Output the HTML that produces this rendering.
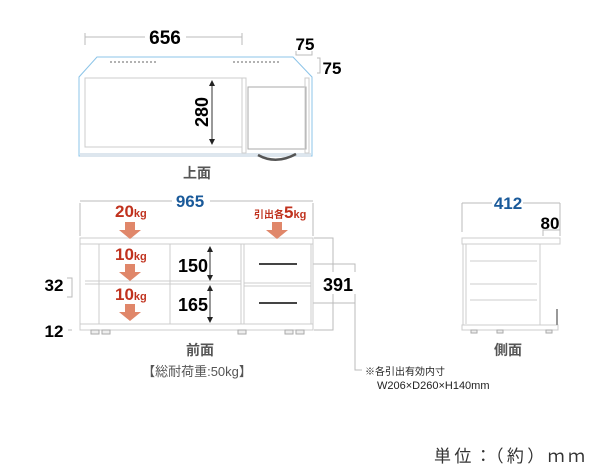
<!DOCTYPE html>
<html><head><meta charset="utf-8"><style>
html,body{margin:0;padding:0;background:#fff;}
svg{display:block;}
text{font-family:"Liberation Sans","Noto Sans CJK JP",sans-serif;}
</style></head><body>
<svg width="600" height="470" viewBox="0 0 600 470" xmlns="http://www.w3.org/2000/svg">
<defs>
<g id="darr"><polygon points="-5,0 5,0 5,8 11,8 0,17 -11,8 -5,8" fill="#e0876a"/></g>
</defs>
<!-- TOP VIEW -->
<g fill="none" stroke="#bbb" stroke-width="1">
<path d="M85,33 V45 M242,33 V45 M85,37 H145 M186,37 H242"/>
<path d="M296,51 V55 H312 V51 M317,58 H320 V73 H317"/>
</g>
<text x="165" y="44" font-size="19" font-weight="bold" text-anchor="middle">656</text>
<text x="305" y="50" font-size="17" font-weight="bold" text-anchor="middle">75</text>
<text x="332" y="74" font-size="17" font-weight="bold" text-anchor="middle">75</text>
<path d="M97,57 H293 L312,77 V156 H79 V77 Z" fill="#fff" stroke="#8cc4e8" stroke-width="1"/>
<rect x="80" y="153" width="231" height="4" fill="#dde6ee"/>
<g stroke="#666" stroke-width="1" stroke-dasharray="2,2"><path d="M110,62 H157 M233,62 H281"/></g>
<rect x="85" y="78" width="157" height="69" fill="none" stroke="#ccc"/>
<rect x="242" y="78" width="4" height="75" fill="none" stroke="#ccc"/>
<rect x="248" y="87" width="58" height="62" fill="none" stroke="#aaa"/>
<rect x="305" y="78" width="4" height="75" fill="none" stroke="#ccc"/>
<path d="M258,155 Q276,165 296,154" fill="none" stroke="#555" stroke-width="2.5"/>
<path d="M212,85 V139" stroke="#333"/>
<polygon points="209,86 215,86 212,80" fill="#222"/><polygon points="209,139 215,139 212,145" fill="#222"/>
<text transform="translate(208,112) rotate(-90)" font-size="18" font-weight="bold" text-anchor="middle">280</text>
<text x="197" y="178" font-size="14" font-weight="bold" fill="#555" text-anchor="middle">上面</text>

<!-- FRONT VIEW -->
<g fill="none" stroke="#bbb">
<path d="M80,203 V236 M313,203 V236 M80,201 H172 M210,201 H313"/>
<path d="M314,238 H333 V330 H314"/>
<path d="M67,278 H72 V297 H67 M68,330 H72"/>
<path d="M299,264 H355 V370 H362 M299,303 H355"/>
</g>
<text x="190" y="207" font-size="17" font-weight="bold" fill="#1a5a9a" text-anchor="middle">965</text>
<rect x="80" y="238" width="233" height="6" fill="#fff" stroke="#ccc"/>
<rect x="80" y="244" width="233" height="80" fill="#fff" stroke="#ccc"/>
<rect x="80" y="324" width="233" height="6" fill="#fff" stroke="#ccc"/>
<g stroke="#ccc"><path d="M99,244 V324 M170,244 V324 M241,244 V324 M244,244 V324 M311,244 V324 M244,283 H311 M244,286 H311 M85,281 H241 M85,284 H241"/></g>
<g fill="#eee" stroke="#aaa"><rect x="91" y="330" width="8" height="4"/><rect x="102" y="330" width="8" height="4"/><rect x="238" y="330" width="8" height="4"/><rect x="285" y="330" width="8" height="4"/><rect x="296" y="330" width="8" height="4"/></g>
<g stroke="#444" stroke-width="2"><path d="M259,264 H297 M259,303 H297"/></g>
<path d="M210,251 V276 M210,290 V318" stroke="#333"/>
<polygon points="207,252 213,252 210,246" fill="#222"/><polygon points="207,275 213,275 210,281" fill="#222"/>
<polygon points="207,291 213,291 210,285" fill="#222"/><polygon points="207,317 213,317 210,323" fill="#222"/>
<text x="193" y="272" font-size="18" font-weight="bold" text-anchor="middle">150</text>
<text x="193" y="311" font-size="18" font-weight="bold" text-anchor="middle">165</text>
<rect x="320" y="272" width="38" height="22" fill="#fff"/>
<text x="338" y="291" font-size="18" font-weight="bold" text-anchor="middle">391</text>
<text x="54" y="291" font-size="17" font-weight="bold" text-anchor="middle">32</text>
<text x="54" y="337" font-size="17" font-weight="bold" text-anchor="middle">12</text>
<use href="#darr" x="130" y="222"/>
<use href="#darr" x="130" y="264"/>
<use href="#darr" x="130" y="304"/>
<use href="#darr" x="277" y="222"/>
<g font-weight="bold" fill="#c0321e">
<text x="115" y="217" font-size="17">20<tspan font-size="11">kg</tspan></text>
<text x="115" y="260" font-size="17">10<tspan font-size="11">kg</tspan></text>
<text x="115" y="300" font-size="17">10<tspan font-size="11">kg</tspan></text>
<text x="254" y="218" font-size="10">引出各<tspan font-size="17">5</tspan><tspan font-size="11">kg</tspan></text>
</g>
<text x="200" y="355" font-size="14" font-weight="bold" fill="#555" text-anchor="middle">前面</text>
<text x="197" y="376" font-size="13" fill="#555" text-anchor="middle">【総耐荷重:50kg】</text>
<text x="365" y="375" font-size="10" fill="#222">※各引出有効内寸</text>
<text x="377" y="389" font-size="11" fill="#222">W206×D260×H140mm</text>

<!-- SIDE VIEW -->
<g fill="none" stroke="#bbb"><path d="M462,203 V232 M560,203 V232 M462,203 H492 M523,203 H560 M543,236 V230 H560 V236"/></g>
<text x="508" y="209" font-size="17" font-weight="bold" fill="#1a5a9a" text-anchor="middle">412</text>
<text x="550" y="229" font-size="17" font-weight="bold" text-anchor="middle">80</text>
<rect x="462" y="238" width="98" height="6" fill="#fff" stroke="#ccc"/>
<rect x="463" y="244" width="77" height="81" fill="#fff" stroke="#ccc"/>
<rect x="462" y="325" width="96" height="5" fill="#fff" stroke="#ccc"/>
<g stroke="#ccc"><path d="M470,261 H537 M470,284 H537 M470,300 H537 M466,244 V324"/></g>
<path d="M557,309 V325" stroke="#999" stroke-width="2"/>
<g fill="#eee" stroke="#aaa"><rect x="471" y="330" width="6" height="3"/><rect x="497" y="330" width="6" height="3"/><rect x="546" y="330" width="6" height="3"/></g>
<text x="508" y="355" font-size="14" font-weight="bold" fill="#555" text-anchor="middle">側面</text>

<text x="434" y="462" font-size="17" fill="#333" textLength="151" lengthAdjust="spacing">単位：（約）ｍｍ</text>
</svg>
</body></html>
